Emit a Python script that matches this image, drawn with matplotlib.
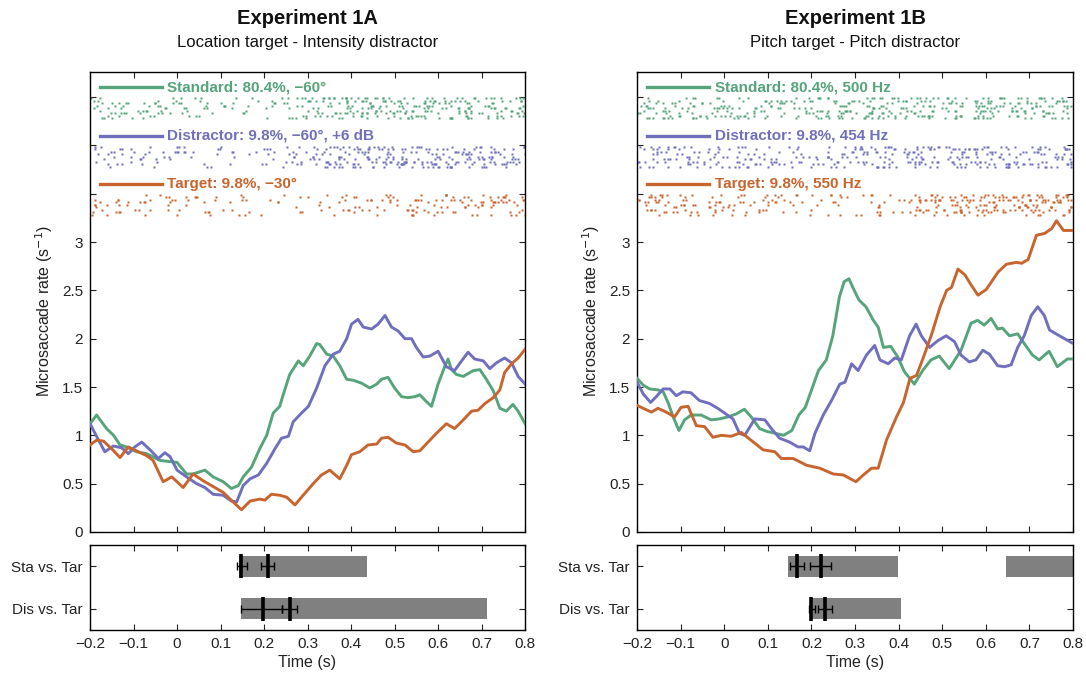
import numpy as np
import matplotlib
matplotlib.use("Agg")
import matplotlib.pyplot as plt

plt.rcParams['font.family'] = ['Liberation Sans', 'DejaVu Sans']
plt.rcParams['axes.linewidth'] = 1.0

GREEN = '#55a47a'
BLUE = '#6f6fbd'
ORANGE = '#c8652f'
GRAY = '#808080'

# ---- Experiment 1A rate curves (time s, rate 1/s)
std_a_t = [-0.2, -0.185, -0.162, -0.146, -0.131, -0.116, -0.093, -0.07, -0.039, 0.0, 0.022, 0.037,
           0.064, 0.083, 0.106, 0.125, 0.141, 0.152, 0.171, 0.19, 0.206, 0.221, 0.236, 0.244, 0.259,
           0.279, 0.29, 0.305, 0.321, 0.328, 0.344, 0.359, 0.374, 0.39, 0.405, 0.424, 0.443, 0.459,
           0.47, 0.485, 0.5, 0.516, 0.531, 0.547, 0.558, 0.573, 0.585, 0.6, 0.616, 0.623, 0.631,
           0.642, 0.658, 0.681, 0.696, 0.711, 0.727, 0.742, 0.757, 0.772, 0.784, 0.8]
std_a_v = [1.12, 1.21, 1.07, 1.0, 0.9, 0.88, 0.83, 0.81, 0.74, 0.72, 0.6, 0.6,
           0.64, 0.57, 0.52, 0.45, 0.48, 0.57, 0.67, 0.86, 1.0, 1.23, 1.3, 1.42, 1.63,
           1.77, 1.72, 1.82, 1.95, 1.94, 1.84, 1.82, 1.72, 1.58, 1.57, 1.54, 1.49, 1.53,
           1.58, 1.6, 1.49, 1.4, 1.39, 1.4, 1.42, 1.35, 1.3, 1.53, 1.72, 1.79, 1.68,
           1.63, 1.61, 1.67, 1.68, 1.58, 1.46, 1.28, 1.25, 1.32, 1.25, 1.12]

dis_a_t = [-0.2, -0.185, -0.166, -0.146, -0.127, -0.112, -0.097, -0.081, -0.062, -0.043, -0.028,
           -0.016, 0.0, 0.022, 0.045, 0.064, 0.083, 0.106, 0.125, 0.137, 0.152, 0.168, 0.187, 0.206,
           0.225, 0.24, 0.256, 0.267, 0.286, 0.302, 0.321, 0.34, 0.359, 0.374, 0.39, 0.401, 0.416,
           0.428, 0.447, 0.462, 0.478, 0.493, 0.508, 0.524, 0.539, 0.55, 0.566, 0.581, 0.6, 0.619,
           0.638, 0.654, 0.669, 0.684, 0.704, 0.719, 0.734, 0.753, 0.769, 0.784, 0.8]
dis_a_v = [1.12, 0.99, 0.83, 0.89, 0.87, 0.81, 0.88, 0.93, 0.85, 0.76, 0.82,
           0.78, 0.64, 0.57, 0.5, 0.46, 0.39, 0.38, 0.32, 0.31, 0.48, 0.55, 0.59, 0.71,
           0.86, 0.97, 0.99, 1.14, 1.23, 1.3, 1.49, 1.72, 1.84, 1.87, 2.0, 2.15, 2.2,
           2.12, 2.1, 2.15, 2.24, 2.12, 2.08, 2.0, 2.0, 1.91, 1.81, 1.82, 1.87, 1.71,
           1.67, 1.77, 1.86, 1.79, 1.77, 1.69, 1.75, 1.8, 1.75, 1.61, 1.53]

tar_a_t = [-0.2, -0.185, -0.169, -0.15, -0.131, -0.112, -0.089, -0.07, -0.055, -0.032, -0.012,
           0.014, 0.037, 0.06, 0.083, 0.106, 0.129, 0.148, 0.168, 0.19, 0.202, 0.217, 0.236, 0.252,
           0.271, 0.29, 0.313, 0.332, 0.351, 0.374, 0.39, 0.401, 0.42, 0.439, 0.459, 0.47, 0.485,
           0.504, 0.524, 0.543, 0.558, 0.577, 0.596, 0.619, 0.638, 0.658, 0.677, 0.692, 0.708,
           0.727, 0.742, 0.753, 0.769, 0.784, 0.8]
tar_a_v = [0.9, 0.95, 0.94, 0.86, 0.77, 0.88, 0.83, 0.79, 0.74, 0.52, 0.57,
           0.46, 0.6, 0.53, 0.47, 0.41, 0.31, 0.23, 0.32, 0.34, 0.33, 0.39, 0.38, 0.36,
           0.28, 0.38, 0.5, 0.59, 0.64, 0.55, 0.69, 0.8, 0.83, 0.9, 0.91, 0.97, 0.98,
           0.92, 0.9, 0.83, 0.84, 0.93, 1.02, 1.12, 1.07, 1.16, 1.25, 1.26, 1.33,
           1.39, 1.47, 1.65, 1.74, 1.8, 1.89]

# ---- Experiment 1B rate curves
std_b_t = [-0.2, -0.186, -0.171, -0.152, -0.14, -0.129, -0.117, -0.104, -0.091, -0.076, -0.053,
           -0.03, -0.011, 0.008, 0.027, 0.046, 0.062, 0.081, 0.098, 0.118, 0.136, 0.155, 0.171,
           0.186, 0.201, 0.216, 0.234, 0.249, 0.264, 0.275, 0.286, 0.296, 0.309, 0.325, 0.342,
           0.353, 0.365, 0.382, 0.398, 0.413, 0.436, 0.455, 0.474, 0.493, 0.516, 0.543, 0.566,
           0.581, 0.596, 0.612, 0.627, 0.638, 0.654, 0.673, 0.688, 0.707, 0.722, 0.745, 0.764,
           0.787, 0.8]
std_b_v = [1.59, 1.52, 1.48, 1.47, 1.45, 1.34, 1.19, 1.05, 1.16, 1.21, 1.21,
           1.16, 1.17, 1.19, 1.22, 1.27, 1.19, 1.07, 1.04, 1.02, 1.0, 1.05, 1.21,
           1.29, 1.48, 1.67, 1.78, 2.03, 2.43, 2.59, 2.62, 2.52, 2.4, 2.33, 2.19,
           2.12, 1.91, 1.92, 1.81, 1.66, 1.53, 1.67, 1.78, 1.82, 1.69, 1.88, 2.16,
           2.19, 2.14, 2.21, 2.1, 2.11, 2.03, 2.05, 1.95, 1.83, 1.78, 1.87, 1.71,
           1.79, 1.79]

dis_b_t = [-0.2, -0.186, -0.169, -0.156, -0.14, -0.125, -0.11, -0.095, -0.076, -0.057, -0.034,
           -0.015, 0.004, 0.02, 0.035, 0.047, 0.07, 0.093, 0.108, 0.127, 0.15, 0.169, 0.181, 0.196,
           0.208, 0.227, 0.246, 0.265, 0.277, 0.292, 0.307, 0.326, 0.345, 0.357, 0.376, 0.391,
           0.406, 0.425, 0.44, 0.452, 0.471, 0.49, 0.509, 0.528, 0.543, 0.562, 0.577, 0.593,
           0.608, 0.627, 0.643, 0.658, 0.673, 0.688, 0.704, 0.719, 0.734, 0.746, 0.761, 0.8]
dis_b_v = [1.55, 1.43, 1.34, 1.4, 1.48, 1.48, 1.41, 1.45, 1.44, 1.36, 1.33,
           1.28, 1.22, 1.17, 1.02, 1.0, 1.17, 1.16, 1.07, 0.97, 0.93, 0.88, 0.88, 0.84,
           1.02, 1.21, 1.36, 1.53, 1.55, 1.74, 1.67, 1.83, 1.93, 1.78, 1.74, 1.8,
           1.78, 2.03, 2.15, 2.03, 1.91, 1.98, 2.03, 1.97, 1.83, 1.76, 1.78, 1.88,
           1.84, 1.72, 1.71, 1.73, 1.91, 2.03, 2.24, 2.33, 2.24, 2.09, 2.05, 1.95]

tar_b_t = [-0.2, -0.186, -0.167, -0.152, -0.133, -0.114, -0.099, -0.083, -0.064, -0.045, -0.026,
           -0.007, 0.016, 0.039, 0.089, 0.116, 0.131, 0.158, 0.189, 0.219, 0.25, 0.273, 0.302,
           0.319, 0.338, 0.353, 0.372, 0.395, 0.411, 0.426, 0.441, 0.457, 0.476, 0.495, 0.51,
           0.521, 0.536, 0.552, 0.567, 0.582, 0.601, 0.613, 0.628, 0.647, 0.67, 0.682, 0.697,
           0.716, 0.735, 0.751, 0.762, 0.778, 0.8]
tar_b_v = [1.31, 1.28, 1.24, 1.28, 1.24, 1.19, 1.29, 1.3, 1.1, 1.09, 0.98,
           1.0, 0.99, 1.03, 0.85, 0.83, 0.76, 0.76, 0.69, 0.66, 0.6, 0.59, 0.52,
           0.59, 0.66, 0.66, 0.95, 1.19, 1.34, 1.59, 1.62, 1.81, 2.05, 2.33, 2.5,
           2.53, 2.72, 2.66, 2.55, 2.45, 2.51, 2.59, 2.69, 2.77, 2.79, 2.78, 2.82,
           3.07, 3.09, 3.14, 3.22, 3.12, 3.12]

# ---- raster: number of microsaccades per 50 ms bin
raster_bins = np.arange(-0.2, 0.8, 0.05)
std_a_counts = [14, 13, 12, 12, 10, 8, 7, 6, 8, 14, 20, 24, 26, 25, 24, 22, 22, 22, 22, 20]
dis_a_counts = [10, 10, 9, 8, 8, 6, 5, 4, 8, 12, 18, 22, 26, 24, 24, 24, 22, 22, 22, 20]
tar_a_counts = [10, 9, 9, 8, 8, 7, 6, 5, 4, 4, 6, 8, 10, 10, 12, 12, 12, 14, 16, 16]
std_b_counts = [18, 18, 17, 16, 16, 15, 14, 15, 18, 24, 22, 22, 20, 20, 22, 22, 22, 22, 22, 20]
dis_b_counts = [16, 16, 15, 15, 14, 13, 12, 12, 12, 14, 18, 22, 20, 20, 20, 22, 20, 20, 20, 20]
tar_b_counts = [16, 15, 14, 14, 12, 10, 9, 8, 7, 6, 6, 10, 16, 20, 22, 22, 24, 24, 26, 26]

# ---- significance bars: (start, end) of grey bars, latency markers (value, low, high)
sig_a = {'Sta vs. Tar': [(0.142, 0.437)], 'Dis vs. Tar': [(0.146, 0.712)]}
lat_a = {'Sta vs. Tar': [(0.148, 0.137, 0.160), (0.208, 0.193, 0.222)],
         'Dis vs. Tar': [(0.197, 0.146, 0.242), (0.259, 0.242, 0.275)]}
sig_b = {'Sta vs. Tar': [(0.146, 0.398), (0.646, 0.8)], 'Dis vs. Tar': [(0.197, 0.405)]}
lat_b = {'Sta vs. Tar': [(0.166, 0.150, 0.182), (0.221, 0.197, 0.245)],
         'Dis vs. Tar': [(0.200, 0.194, 0.208), (0.232, 0.216, 0.248)]}

labels_a = ['Standard: 80.4%, \u221260\u00b0', 'Distractor: 9.8%, \u221260\u00b0, +6 dB',
            'Target: 9.8%, \u221230\u00b0']
labels_b = ['Standard: 80.4%, 500 Hz', 'Distractor: 9.8%, 454 Hz', 'Target: 9.8%, 550 Hz']

rows = ['Sta vs. Tar', 'Dis vs. Tar']


def frac_hash(k, a):
    v = np.sin(k * a) * 43758.5453
    return v - np.floor(v)


def raster(ax, counts, top, color, seed):
    # spread the dots of each bin over 9 trial rows (deterministic scatter)
    nrows = 9
    xs, ys = [], []
    k = seed
    for b, n in zip(raster_bins, counts):
        for j in range(n):
            k += 1
            fx = frac_hash(k, 12.9898)
            r = int(frac_hash(k, 78.233) * nrows)
            xs.append(b + 0.05 * fx)
            ys.append(top - 0.012 - r * 0.026)
    ax.plot(xs, ys, 's', ms=2.0, mec='none', mfc=color)


def style_ticks(ax):
    ax.tick_params(direction='in', top=True, right=True, length=4, width=0.8,
                   labelsize=11, colors='#222222', pad=5)
    ax.set_xlim(-0.2, 0.8)
    ax.set_xticks(np.arange(-0.2, 0.81, 0.1))


def panel(ax, ax2, curves, counts, labels, sig, lat, title, subtitle, seed):
    colors = [GREEN, BLUE, ORANGE]
    for (t, v), c in zip(curves, colors):
        ax.plot(t, v, color=c, lw=2.1, solid_joinstyle='round', zorder=3)
    levels = [4.5, 4.0, 3.5]
    for i, (cnt, lev, c, lab) in enumerate(zip(counts, levels, colors, labels)):
        raster(ax, cnt, lev, c, seed + 500 * i)
        ax.plot([-0.177, -0.035], [lev + 0.1, lev + 0.1], color=c, lw=2.4)
        ax.text(-0.022, lev + 0.1, lab, color=c, fontsize=11, fontweight='bold',
                va='center', ha='left')
    style_ticks(ax)
    ax.set_ylim(0, 4.76)
    ax.set_yticks(np.arange(0, 4.51, 0.5))
    ax.set_yticklabels(['0', '0.5', '1', '1.5', '2', '2.5', '3', '', '', ''])
    ax.set_xticklabels([])
    ax.set_ylabel('Microsaccade rate (s$^{-1}$)', fontsize=11.5, color='#222222')
    ax.yaxis.set_label_coords(-0.08, 0.48)
    ax.text(0.5, 1.117, title, transform=ax.transAxes, ha='center', va='center',
            fontsize=14.5, fontweight='bold', color='#111111')
    ax.text(0.5, 1.064, subtitle, transform=ax.transAxes, ha='center', va='center',
            fontsize=12, color='#111111')

    for i, r in enumerate(rows):
        y = i + 1
        for s, e in sig[r]:
            ax2.barh(y, e - s, left=s, height=0.5, color=GRAY, zorder=2)
        for m, lo, hi in lat[r]:
            ax2.errorbar(m, y, xerr=[[m - lo], [hi - m]], fmt='none', ecolor='k',
                         elinewidth=1.0, capsize=3, capthick=1.0, zorder=3)
            ax2.plot([m], [y], marker='|', ms=17, mew=2.6, color='k', zorder=4)
    style_ticks(ax2)
    ax2.set_ylim(2.5, 0.5)
    ax2.set_yticks([1, 2])
    ax2.set_yticklabels(rows)
    ax2.set_xticklabels(['\u22120.2', '\u22120.1', '0', '0.1', '0.2', '0.3', '0.4', '0.5',
                         '0.6', '0.7', '0.8'])
    ax2.set_xlabel('Time (s)', fontsize=11.5, labelpad=3, color='#222222')


fig = plt.figure(figsize=(10.86, 6.75), dpi=100)
ax_a = fig.add_axes([0.0829, 0.2119, 0.4006, 0.6815])
ax_a2 = fig.add_axes([0.0829, 0.0667, 0.4006, 0.1259])
ax_b = fig.add_axes([0.5866, 0.2119, 0.4015, 0.6815])
ax_b2 = fig.add_axes([0.5866, 0.0667, 0.4015, 0.1259])

panel(ax_a, ax_a2,
      [(std_a_t, std_a_v), (dis_a_t, dis_a_v), (tar_a_t, tar_a_v)],
      [std_a_counts, dis_a_counts, tar_a_counts], labels_a, sig_a, lat_a,
      'Experiment 1A', 'Location target - Intensity distractor', 1)
panel(ax_b, ax_b2,
      [(std_b_t, std_b_v), (dis_b_t, dis_b_v), (tar_b_t, tar_b_v)],
      [std_b_counts, dis_b_counts, tar_b_counts], labels_b, sig_b, lat_b,
      'Experiment 1B', 'Pitch target - Pitch distractor', 3000)

fig.savefig('out.png', dpi=100)
